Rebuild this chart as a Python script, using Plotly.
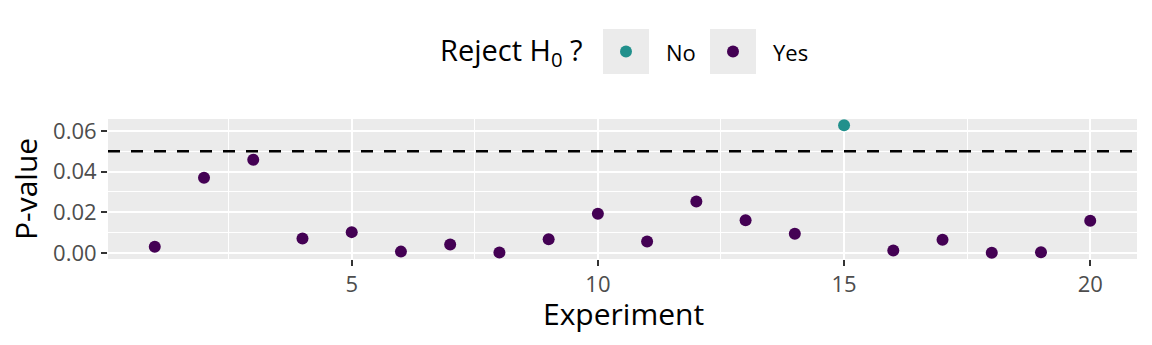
import plotly.graph_objects as go

# P-values from 20 repeated experiments
experiment = list(range(1, 21))
p_value = [0.0030, 0.0370, 0.0459, 0.0071, 0.0102, 0.0006, 0.0041, 0.0002, 0.0067, 0.0193,
           0.0056, 0.0253, 0.0160, 0.0094, 0.0628, 0.0011, 0.0064, 0.0001, 0.0003, 0.0158]
alpha = 0.05
reject_labels = ["No", "Yes"]
reject_colors = {"No": "#21908C", "Yes": "#440154"}
x_ticks = [5, 10, 15, 20]
y_ticks = [0.00, 0.02, 0.04, 0.06]

reject = ["Yes" if p < alpha else "No" for p in p_value]

W, H = 1152, 345
L, R, T, B = 108, 1137, 119, 259
FONT = "Open Sans"


def px(xp):
    return (xp - L) / (R - L)


def py(yp):
    return (B - yp) / (B - T)


def expand(lo, hi, f=0.05):
    pad = (hi - lo) * f
    return [lo - pad, hi + pad]


fig = go.Figure()
for lab in reject_labels:
    xs = [e for e, r in zip(experiment, reject) if r == lab]
    ys = [p for p, r in zip(p_value, reject) if r == lab]
    fig.add_trace(go.Scatter(
        x=xs, y=ys, mode="markers", name=lab, showlegend=False,
        marker=dict(color=reject_colors[lab], size=12, line=dict(width=0)),
    ))

# significance threshold
fig.add_shape(type="line", xref="x domain", yref="y", x0=0, x1=1, y0=alpha, y1=alpha,
              line=dict(color="black", width=2.5, dash="12px,11px"), layer="above")

axis_common = dict(
    showgrid=True, gridcolor="white", gridwidth=2, zeroline=False,
    ticks="outside", ticklen=6, tickwidth=2, tickcolor="#333333",
    tickfont=dict(family=FONT, size=22, color="#4D4D4D"),
    showline=False,
)
fig.update_xaxes(range=expand(min(experiment), max(experiment)), tickvals=x_ticks,
                 minor=dict(tickvals=[2.5, 7.5, 12.5, 17.5], showgrid=True,
                            gridcolor="white", gridwidth=1.1, ticks=""),
                 **axis_common)
fig.update_yaxes(range=expand(min(p_value), max(p_value)), tickvals=y_ticks,
                 tickformat=".2f",
                 minor=dict(tickvals=[0.01, 0.03, 0.05], showgrid=True,
                            gridcolor="white", gridwidth=1.1, ticks=""),
                 **axis_common)

annotations = [
    dict(text="Experiment", x=px(623), y=py(313), xref="paper", yref="paper",
         xanchor="center", yanchor="middle", showarrow=False,
         font=dict(family=FONT, size=30, color="black")),
    dict(text="P-value", x=px(25), y=py(189), xref="paper", yref="paper", textangle=-90,
         xanchor="center", yanchor="middle", showarrow=False,
         font=dict(family=FONT, size=30, color="black")),
    dict(text="Reject H<sub>0</sub> ?", x=px(438), y=py(52), xref="paper", yref="paper",
         xanchor="left", yanchor="middle", showarrow=False,
         font=dict(family=FONT, size=29, color="black")),
]

# legend keys
key_boxes = {"No": (603, 649), "Yes": (710, 756)}
key_text_x = {"No": 664, "Yes": 771}
for lab in reject_labels:
    x0, x1 = key_boxes[lab]
    fig.add_shape(type="rect", xref="paper", yref="paper",
                  x0=px(x0), x1=px(x1), y0=py(74), y1=py(29),
                  fillcolor="#EBEBEB", line=dict(width=0), layer="below")
    cx = (x0 + x1) / 2
    fig.add_shape(type="circle", xref="paper", yref="paper",
                  xsizemode="pixel", ysizemode="pixel",
                  xanchor=px(cx), yanchor=py(51.5),
                  x0=-6, x1=6, y0=-6, y1=6,
                  fillcolor=reject_colors[lab], line=dict(width=0))
    annotations.append(dict(text=lab, x=px(key_text_x[lab]), y=py(52), xref="paper", yref="paper",
                            xanchor="left", yanchor="middle", showarrow=False,
                            font=dict(family=FONT, size=22, color="black")))

fig.update_layout(
    width=W, height=H, autosize=False,
    margin=dict(l=L, r=W - R, t=T, b=H - B, pad=0),
    plot_bgcolor="#EBEBEB", paper_bgcolor="white",
    annotations=annotations, showlegend=False,
    font=dict(family=FONT),
)

fig.write_html("out.html")
